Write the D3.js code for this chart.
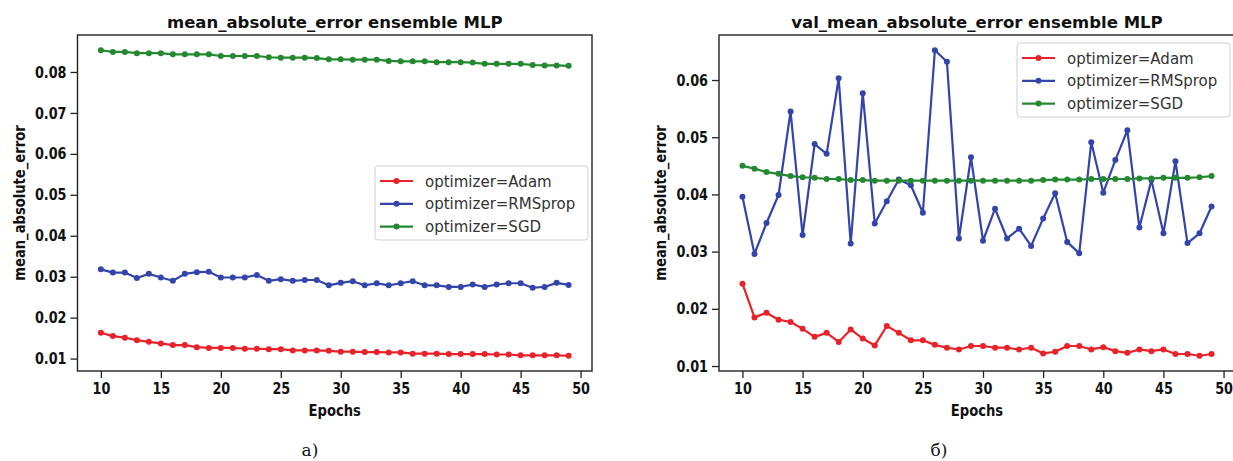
<!DOCTYPE html>
<html><head><meta charset="utf-8">
<script src="https://cdn.jsdelivr.net/npm/d3@7"></script>
<style>body{margin:0;background:#fff;overflow:hidden}</style>
</head><body>
<svg id="c" width="1233" height="461"></svg>
<script>
const epochs = [10,11,12,13,14,15,16,17,18,19,20,21,22,23,24,25,26,27,28,29,30,31,32,33,34,35,36,37,38,39,40,41,42,43,44,45,46,47,48,49];

const trainAdam = [0.0163,0.0155,0.0151,0.0145,0.0141,0.0137,0.0133,0.0133,0.0128,0.0126,0.0126,0.0126,0.0124,0.0124,0.0123,0.0123,0.0120,0.0120,0.0120,0.0119,0.0117,0.0117,0.0116,0.0116,0.0115,0.0115,0.0112,0.0112,0.0112,0.0111,0.0111,0.0111,0.0111,0.0110,0.0110,0.0108,0.0108,0.0108,0.0108,0.0107];
const trainRMSprop = [0.0318,0.0310,0.0310,0.0297,0.0307,0.0298,0.0290,0.0307,0.0311,0.0312,0.0298,0.0298,0.0298,0.0304,0.0290,0.0294,0.0290,0.0292,0.0292,0.0279,0.0285,0.0289,0.0279,0.0284,0.0279,0.0284,0.0289,0.0279,0.0279,0.0275,0.0275,0.0281,0.0275,0.0281,0.0284,0.0284,0.0273,0.0275,0.0285,0.0280];
const trainSGD = [0.0853,0.0849,0.0849,0.0846,0.0846,0.0846,0.0843,0.0843,0.0843,0.0843,0.0839,0.0839,0.0839,0.0839,0.0836,0.0835,0.0835,0.0835,0.0834,0.0831,0.0831,0.0830,0.0830,0.0830,0.0827,0.0826,0.0826,0.0826,0.0824,0.0824,0.0824,0.0823,0.0820,0.0820,0.0820,0.0820,0.0817,0.0816,0.0816,0.0815];

const valAdam = [0.0244,0.0185,0.0193,0.0181,0.0177,0.0165,0.0151,0.0158,0.0142,0.0164,0.0148,0.0136,0.0170,0.0158,0.0145,0.0145,0.0137,0.0132,0.0129,0.0135,0.0135,0.0132,0.0132,0.0129,0.0132,0.0122,0.0125,0.0135,0.0135,0.0129,0.0133,0.0126,0.0123,0.0129,0.0126,0.0129,0.0121,0.0121,0.0118,0.0121];
const valRMSprop = [0.0396,0.0296,0.0350,0.0399,0.0545,0.0329,0.0488,0.0471,0.0603,0.0314,0.0577,0.0349,0.0388,0.0426,0.0416,0.0368,0.0652,0.0632,0.0323,0.0465,0.0319,0.0375,0.0323,0.0340,0.0310,0.0358,0.0402,0.0317,0.0297,0.0491,0.0403,0.0460,0.0512,0.0342,0.0425,0.0332,0.0458,0.0315,0.0332,0.0379];
const valSGD = [0.0450,0.0445,0.0439,0.0436,0.0432,0.0430,0.0429,0.0427,0.0427,0.0425,0.0425,0.0424,0.0424,0.0424,0.0424,0.0424,0.0424,0.0424,0.0424,0.0424,0.0424,0.0424,0.0424,0.0424,0.0424,0.0425,0.0426,0.0426,0.0426,0.0427,0.0427,0.0427,0.0427,0.0428,0.0428,0.0429,0.0429,0.0429,0.0430,0.0432];

const seriesNames = ["optimizer=Adam","optimizer=RMSprop","optimizer=SGD"];
const seriesColors = ["#e8222a","#3344aa","#23882f"];
const xTicks = [10,15,20,25,30,35,40,45,50];
const yTicksTrain = [0.01,0.02,0.03,0.04,0.05,0.06,0.07,0.08];
const yTicksVal = [0.01,0.02,0.03,0.04,0.05,0.06];
const titles = ["mean_absolute_error ensemble MLP","val_mean_absolute_error ensemble MLP"];
const yLabel = "mean_absolute_error";
const xLabel = "Epochs";
const captions = ["а)","б)"];

const svg = d3.select("#c");
const FONT = "'DejaVu Sans', sans-serif";

function squeeze(sel, f){
  sel.each(function(){
    const w = this.getComputedTextLength();
    this.setAttribute("textLength", (w*f).toFixed(1));
    this.setAttribute("lengthAdjust","spacingAndGlyphs");
  });
}

function pad(ext){ const r = ext[1]-ext[0]; return [ext[0]-0.05*r, ext[1]+0.05*r]; }

function panel(box, series, yTicks, title, caption, legendPos){
  const g = svg.append("g");
  const xs = d3.scaleLinear().domain(pad(d3.extent(epochs))).range([box.l, box.r]);
  const allV = series.flat();
  const ys = d3.scaleLinear().domain(pad(d3.extent(allV))).range([box.b, box.t]);

  series.forEach((vals, i) => {
    const pts = epochs.map((e, k) => [e, vals[k]]);
    g.append("path").datum(pts)
      .attr("fill","none").attr("stroke", seriesColors[i]).attr("stroke-width", 2.2)
      .attr("stroke-linejoin","round")
      .attr("d", d3.line().x(d => xs(d[0])).y(d => ys(d[1])));
    g.append("g").selectAll("circle").data(pts).join("circle")
      .attr("cx", d => xs(d[0])).attr("cy", d => ys(d[1])).attr("r", 3)
      .attr("fill", seriesColors[i]);
  });

  const ax = g.append("g").attr("transform", `translate(0,${box.b})`)
    .call(d3.axisBottom(xs).tickValues(xTicks).tickSize(7).tickPadding(4).tickFormat(d3.format("d")));
  const ay = g.append("g").attr("transform", `translate(${box.l},0)`)
    .call(d3.axisLeft(ys).tickValues(yTicks).tickSize(7).tickPadding(4).tickFormat(d3.format(".2f")));
  [ax, ay].forEach(a => {
    a.select(".domain").remove();
    a.selectAll(".tick line").attr("stroke","#222").attr("stroke-width",1.3);
    a.selectAll(".tick text").attr("fill","#111").style("font-family",FONT)
      .style("font-weight","bold").style("font-size","16px");
  });
  ax.selectAll(".tick text").attr("dy","0.78em");
  squeeze(ax.selectAll(".tick text"), 0.8);
  squeeze(ay.selectAll(".tick text"), 0.8);

  g.append("rect").attr("x", box.l).attr("y", box.t).attr("width", box.r-box.l).attr("height", box.b-box.t)
    .attr("fill","none").attr("stroke","#222").attr("stroke-width",1.4);

  g.append("text").attr("x", (box.l+box.r)/2).attr("y", 28).attr("text-anchor","middle")
    .style("font-family",FONT).style("font-weight","bold").style("font-size","16.5px").attr("fill","#111")
    .text(title);

  const yl = g.append("text").attr("transform", `translate(${box.l-53},${(box.t+box.b)/2}) rotate(-90)`)
    .attr("text-anchor","middle")
    .style("font-family",FONT).style("font-weight","bold").style("font-size","16px").attr("fill","#111")
    .text(yLabel);
  squeeze(yl, 0.82);

  const xl = g.append("text").attr("x", (box.l+box.r)/2).attr("y", 416).attr("text-anchor","middle")
    .style("font-family",FONT).style("font-weight","bold").style("font-size","16px").attr("fill","#111")
    .text(xLabel);
  squeeze(xl, 0.82);

  g.append("text").attr("x", caption.x).attr("y", 456).attr("text-anchor","middle")
    .style("font-family","'DejaVu Serif', serif").style("font-size","17px").attr("fill","#111")
    .text(caption.t);

  const lg = g.append("g").attr("transform", `translate(${legendPos[0]},${legendPos[1]})`);
  lg.append("rect").attr("width",213).attr("height",74).attr("rx",3)
    .attr("fill","#fff").attr("fill-opacity",0.85).attr("stroke","#d0d0d0").attr("stroke-width",1);
  seriesNames.forEach((n, i) => {
    const yy = 15 + i*22.8;
    lg.append("line").attr("x1",5).attr("x2",38).attr("y1",yy).attr("y2",yy)
      .attr("stroke",seriesColors[i]).attr("stroke-width",2.2);
    lg.append("circle").attr("cx",21.5).attr("cy",yy).attr("r",3).attr("fill",seriesColors[i]);
    lg.append("text").attr("x",50).attr("y",yy+5.5)
      .style("font-family",FONT).style("font-size","15px").attr("fill","#333").text(n);
  });
}

panel({l:77.5, r:592, t:35, b:371}, [trainAdam, trainRMSprop, trainSGD], yTicksTrain, titles[0], {x:310, t:captions[0]}, [375,166]);
panel({l:719, r:1235, t:35, b:371}, [valAdam, valRMSprop, valSGD], yTicksVal, titles[1], {x:939, t:captions[1]}, [1017,43]);
</script>
</body></html>
